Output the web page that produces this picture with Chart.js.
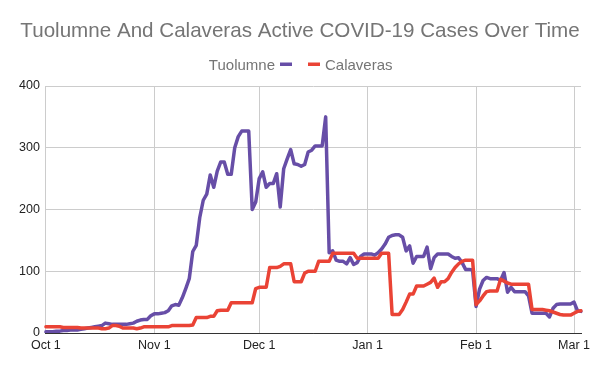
<!DOCTYPE html>
<html>
<head>
<meta charset="utf-8">
<script src="https://cdn.jsdelivr.net/npm/chart.js@4.4.1/dist/chart.umd.min.js"></script>
<style>
  html, body { margin: 0; padding: 0; background: #ffffff; }
  #wrap { width: 600px; height: 371px; position: relative; }
</style>
</head>
<body>
<div id="wrap"><canvas id="c" width="600" height="371"></canvas></div>
<script>
const chartTitle = 'Tuolumne And Calaveras Active COVID-19 Cases Over Time';
const seriesNames = ['Tuolumne', 'Calaveras'];
const seriesColors = ['#674ea7', '#ea4335'];
const monthNames = ['Oct', 'Nov', 'Dec', 'Jan', 'Feb', 'Mar'];
const monthLengths = [31, 30, 31, 31, 28, 3];
const xTickLabels = ['Oct 1', 'Nov 1', 'Dec 1', 'Jan 1', 'Feb 1', 'Mar 1'];
const yTickValues = [0, 100, 200, 300, 400];

const tuolumne = [
  2,2,2,3,3,4,4,5,5,5,
  6,7,8,9,10,11,12,16,15,14,
  14,14,14,14,15,16,19,21,22,22,
  28,31,31,32,33,36,44,46,45,57,
  72,88,132,142,187,215,225,256,236,262,
  277,277,257,257,300,318,327,327,327,200,
  212,250,261,236,242,242,258,204,266,282,
  297,274,273,270,273,293,296,303,303,303,
  350,130,133,118,116,116,112,122,111,114,
  124,128,128,128,126,130,136,144,155,158,
  159,159,155,133,141,113,124,124,124,139,
  104,122,128,128,128,128,124,121,122,114,
  103,103,102,43,71,85,90,88,88,88,
  85,98,66,74,67,67,67,67,60,32,
  32,32,32,32,26,40,46,47,47,47,
  47,50,36,35
];

const calaveras = [
  10,10,10,10,10,9,9,9,9,9,
  8,8,8,8,8,8,7,7,8,12,
  12,11,8,8,8,8,7,8,10,10,
  10,10,10,10,10,10,12,12,12,12,
  12,12,13,25,25,25,25,27,27,36,
  37,37,37,49,49,49,49,49,49,49,
  72,74,74,74,106,106,106,108,112,112,
  112,83,83,83,97,100,100,100,116,116,
  116,116,129,129,129,129,129,129,129,121,
  121,121,121,121,121,121,129,129,129,30,
  30,30,38,50,63,63,76,76,76,79,
  82,89,74,83,83,88,98,106,112,116,
  118,118,118,46,52,60,67,68,68,68,
  87,84,81,79,79,79,79,79,79,38,
  38,38,38,37,36,34,32,30,29,29,
  29,32,35,36
];

// Categories: one label per day, Oct 1 .. Mar 3
const categories = [];
monthNames.forEach((m, i) => {
  for (let d = 1; d <= monthLengths[i]; d++) categories.push(m + ' ' + d);
});

const FONT = '"Liberation Sans", Arial, Helvetica, sans-serif';

const headerPlugin = {
  id: 'header',
  afterDraw(chart) {
    const ctx = chart.ctx;
    ctx.save();
    // Title
    ctx.font = '20.6px ' + FONT;
    ctx.fillStyle = '#757575';
    ctx.textAlign = 'center';
    ctx.textBaseline = 'alphabetic';
    ctx.fillText(chartTitle, 300, 37);
    // Legend: "Tuolumne ▬   ▬ Calaveras"
    ctx.font = '15px ' + FONT;
    const ds = chart.data.datasets;
    ctx.textAlign = 'right';
    ctx.fillText(ds[0].label, 275, 70);
    ctx.fillStyle = ds[0].borderColor;
    ctx.fillRect(280, 62.5, 12, 3.5);
    ctx.fillStyle = ds[1].borderColor;
    ctx.fillRect(308, 62.5, 12, 3.5);
    ctx.fillStyle = '#757575';
    ctx.textAlign = 'left';
    ctx.fillText(ds[1].label, 325, 70);
    ctx.restore();
  }
};

new Chart(document.getElementById('c'), {
  type: 'line',
  data: {
    labels: categories,
    datasets: [
      {
        label: seriesNames[0],
        data: tuolumne,
        borderColor: seriesColors[0],
        backgroundColor: seriesColors[0],
        borderWidth: 3.5,
        pointRadius: 0,
        pointHoverRadius: 0,
        tension: 0,
        borderJoinStyle: 'round',
        borderCapStyle: 'round',
        fill: false,
        order: 1
      },
      {
        label: seriesNames[1],
        data: calaveras,
        borderColor: seriesColors[1],
        backgroundColor: seriesColors[1],
        borderWidth: 3.5,
        pointRadius: 0,
        pointHoverRadius: 0,
        tension: 0,
        borderJoinStyle: 'round',
        borderCapStyle: 'round',
        fill: false,
        order: 0
      }
    ]
  },
  options: {
    responsive: false,
    devicePixelRatio: 1,
    animation: false,
    layout: { padding: { top: 86, left: 13, right: 19, bottom: 13 } },
    plugins: {
      legend: { display: false },
      title: { display: false },
      tooltip: { enabled: false }
    },
    scales: {
      x: {
        type: 'category',
        offset: false,
        grid: {
          drawTicks: false,
          lineWidth: 1,
          color: (c) => (c.index !== undefined && xTickLabels.includes(categories[c.index])) ? '#cccccc' : 'rgba(0,0,0,0)'
        },
        border: { display: true, color: '#333333', width: 1 },
        ticks: {
          autoSkip: false,
          maxRotation: 0,
          minRotation: 0,
          padding: 5,
          color: '#222222',
          font: { family: FONT, size: 12.5 },
          callback: function (value, index) {
            const lab = categories[index];
            return xTickLabels.includes(lab) ? lab : '';
          }
        }
      },
      y: {
        min: yTickValues[0],
        max: yTickValues[yTickValues.length - 1],
        afterBuildTicks: (axis) => { axis.ticks = yTickValues.map(v => ({ value: v })); },
        grid: {
          drawTicks: false,
          lineWidth: 1,
          color: (c) => (c.tick && c.tick.value === 0) ? '#333333' : '#cccccc'
        },
        border: { display: false },
        ticks: {
          padding: 6,
          color: '#222222',
          font: { family: FONT, size: 12.5 }
        }
      }
    }
  },
  plugins: [headerPlugin]
});
</script>
</body>
</html>
